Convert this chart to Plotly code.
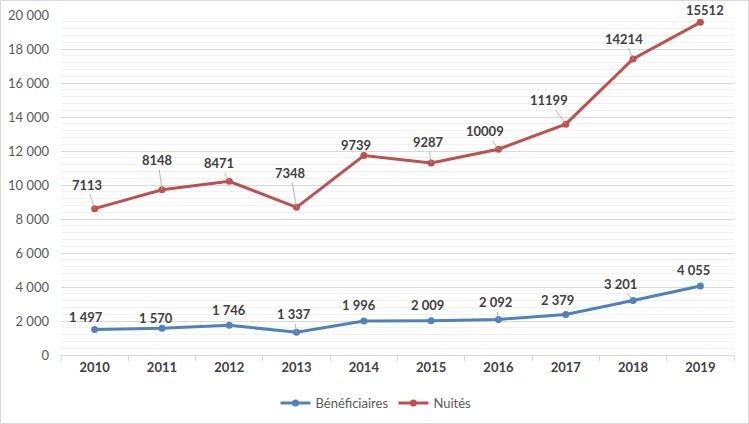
import plotly.graph_objects as go

years = ["2010", "2011", "2012", "2013", "2014", "2015", "2016", "2017", "2018", "2019"]
beneficiaires = [1497, 1570, 1746, 1337, 1996, 2009, 2092, 2379, 3201, 4055]
nuitees = [7113, 8148, 8471, 7348, 9739, 9287, 10009, 11199, 14214, 15512]
y_ticks = [0, 2000, 4000, 6000, 8000, 10000, 12000, 14000, 16000, 18000, 20000]

# label placement (pixel offsets from point) and leader-line flags
ben_off = [(-9, -13, 0), (-6, -10, 0), (0, -15, 0), (-3, -18, 1), (-5, -16, 0),
           (-4, -16, 0), (-3, -17, 1), (-8, -15, 0), (-13, -17, 1), (-7, -16, 0)]
nui_off = [(-8, -24, 1), (-4, -30, 1), (-10, -18, 1), (-6, -34, 1), (-8, -11, 0),
           (-3, -21, 1), (-13, -18, 1), (-17, -24, 1), (-9, -20, 1), (5, -12, 0)]

BLUE = "#4F81BD"
RED = "#C0504D"
FONT = "Lato"

stacked = [b + n for b, n in zip(beneficiaires, nuitees)]

def fmt(v):
    return f"{v:,}".replace(",", " ")

fig = go.Figure()
fig.add_trace(go.Scatter(x=years, y=beneficiaires, name="Bénéficiaires", mode="lines+markers",
                         line=dict(color=BLUE, width=3), marker=dict(size=7, color=BLUE)))
fig.add_trace(go.Scatter(x=years, y=stacked, name="Nuités", mode="lines+markers",
                         line=dict(color=RED, width=3), marker=dict(size=7, color=RED)))

annotations = []
def add_labels(values, ypos, offs, formatter):
    for i, (v, y, (dx, dy, lead)) in enumerate(zip(values, ypos, offs)):
        f = dict(family=FONT, size=13, color="#404040", weight="bold")
        if lead:
            annotations.append(dict(x=i, y=y, text=formatter(v), showarrow=True, arrowhead=0,
                                    arrowwidth=0.8, arrowcolor="#A6A6A6", ax=dx, ay=dy, standoff=0,
                                    font=f))
        else:
            annotations.append(dict(x=i, y=y, text=formatter(v), showarrow=False, xshift=dx, yshift=-dy,
                                    font=f))

add_labels(beneficiaires, beneficiaires, ben_off, fmt)
add_labels(nuitees, stacked, nui_off, str)

fig.update_layout(
    width=749, height=424,
    margin=dict(l=61, r=15, t=15, b=69, autoexpand=False),
    paper_bgcolor="white", plot_bgcolor="white",
    font=dict(family=FONT, size=12, color="#595959"),
    showlegend=True,
    legend=dict(orientation="h", x=(376 - 61) / 673, xanchor="center", y=-48 / 340, yanchor="middle",
                font=dict(family=FONT, size=13, color="#595959"), itemwidth=30),
    annotations=annotations,
    shapes=[dict(type="rect", xref="paper", yref="paper",
                 x0=-60.5 / 673, x1=1 + 14.5 / 673, y0=-68.5 / 340, y1=1 + 14.5 / 340,
                 line=dict(color="#D9D9D9", width=1), fillcolor="rgba(0,0,0,0)", layer="below")],
)
fig.update_xaxes(type="category", range=[-0.5, len(years) - 0.5], autorange=False,
                 tickson="boundaries", ticks="outside", ticklen=5, tickangle=0,
                 tickcolor="#D9D9D9", showline=True, linecolor="#D9D9D9", showgrid=False,
                 tickfont=dict(family=FONT, size=13, color="#404040", weight="bold"))
fig.update_yaxes(range=[0, 20000], autorange=False, tickvals=y_ticks, ticktext=[fmt(v) for v in y_ticks],
                 showgrid=True, gridcolor="#D9D9D9", gridwidth=1, zeroline=False, showline=False,
                 ticklabelstandoff=11,
                 minor=dict(dtick=400, showgrid=True, gridcolor="#F2F2F2", gridwidth=1),
                 tickfont=dict(family=FONT, size=13, color="#595959"))

fig.write_html("out.html")
